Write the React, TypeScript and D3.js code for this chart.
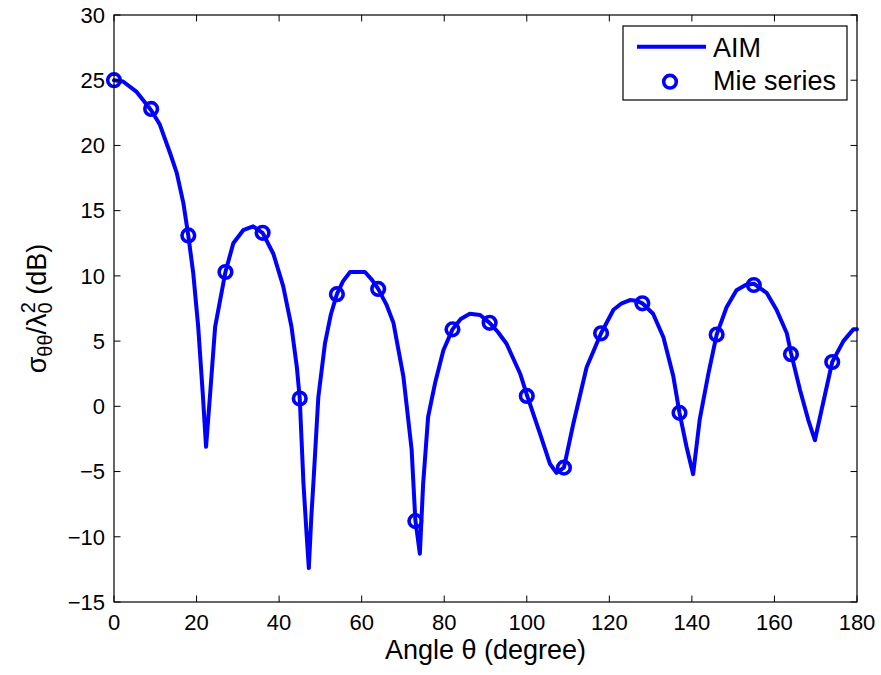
import React from "react";
import * as d3 from "d3";

const aimAngle = [0, 2.2, 5.5, 9, 11.1, 13.6, 15.2, 16.8, 18, 19.2, 20.4, 21.5, 22.3, 23.3, 24.5, 27, 28.9, 31.3, 33.7, 36, 38.6, 41.0, 43.0, 44.3, 45, 45.9, 46.6, 47.2, 47.8, 48.3, 49.5, 51.1, 52.5, 54, 55.5, 57.2, 60.8, 62.5, 64, 66, 67.7, 70.1, 72.1, 73, 74.1, 74.9, 76.1, 77.8, 79.8, 82, 84, 86.2, 88.7, 91, 93, 95.1, 98.4, 100, 103.2, 105.6, 107.2, 109, 111.3, 114.5, 118, 121, 123, 125, 126.5, 128, 130.6, 133.1, 135.5, 137, 138.7, 140.3, 141.9, 144, 146, 148.4, 150.8, 153, 155, 158.1, 160.5, 163, 164, 166.2, 168.2, 169.8, 171.4, 174, 176.7, 179.1, 180];
const aimValue = [25.0, 24.9, 24.1, 22.7, 21.6, 19.4, 17.9, 15.6, 13.1, 10.2, 6.1, 1.0, -3.1, 1.0, 6.1, 10.3, 12.5, 13.5, 13.8, 13.3, 11.7, 9.2, 6.1, 3.0, 0.6, -5.9, -9.5, -12.4, -8.5, -5.9, 0.7, 4.8, 7.0, 8.6, 9.6, 10.3, 10.3, 9.7, 9.0, 7.8, 6.4, 2.3, -3.3, -8.7, -11.3, -5.9, -0.8, 1.8, 4.3, 5.9, 6.7, 7.1, 7.0, 6.4, 5.7, 4.8, 2.5, 0.9, -2.1, -4.4, -5.1, -4.7, -1.3, 3.0, 5.6, 7.4, 7.9, 8.15, 8.1, 7.9, 7.1, 5.3, 2.3, -0.5, -3.1, -5.2, -1.0, 2.5, 5.5, 7.6, 8.9, 9.3, 9.4, 8.7, 7.4, 5.6, 4.1, 1.25, -1.05, -2.6, -0.3, 3.4, 5.0, 5.9, 5.9];

const mieAngle = [0, 9, 18, 27, 36, 45, 54, 64, 73, 82, 91, 100, 109, 118, 128, 137, 146, 155, 164, 174];
const mieValue = [25.0, 22.8, 13.1, 10.3, 13.3, 0.6, 8.6, 9.0, -8.8, 5.9, 6.4, 0.8, -4.7, 5.6, 7.9, -0.5, 5.5, 9.3, 4.0, 3.4];

const xTicks = [0, 20, 40, 60, 80, 100, 120, 140, 160, 180];
const yTicks = [-15, -10, -5, 0, 5, 10, 15, 20, 25, 30];

const seriesNames = ["AIM", "Mie series"];
const xLabel = "Angle θ (degree)";

const W = 881;
const H = 675;
const L = 114;
const R = 857;
const T = 15;
const B = 602;
const BLUE = "#0000ff";
const FONT = "'Liberation Sans', Arial, Helvetica, sans-serif";

export default function App() {
  const x = d3.scaleLinear().domain([0, 180]).range([L, R]);
  const y = d3.scaleLinear().domain([-15, 30]).range([B, T]);
  const aimData = aimAngle.map((a, i) => [a, aimValue[i]] as [number, number]);
  const line = d3
    .line<[number, number]>()
    .x((d) => x(d[0]))
    .y((d) => y(d[1]));
  const tl = 6.5;

  return (
    <svg
      width={W}
      height={H}
      style={{ position: "absolute", left: 0, top: 0, background: "#fff" }}
      fontFamily={FONT}
    >
      <rect x={0} y={0} width={W} height={H} fill="#fff" />
      <path
        d={line(aimData) || ""}
        fill="none"
        stroke={BLUE}
        strokeWidth={4}
        strokeLinejoin="round"
        strokeLinecap="round"
      />
      {mieAngle.map((a, i) => (
        <circle
          key={i}
          cx={x(a)}
          cy={y(mieValue[i])}
          r={6.3}
          fill="none"
          stroke={BLUE}
          strokeWidth={3.6}
        />
      ))}
      <rect x={L} y={T} width={R - L} height={B - T} fill="none" stroke="#000" strokeWidth={1.2} />
      {xTicks.map((t) => (
        <g key={"x" + t}>
          <line x1={x(t)} x2={x(t)} y1={B} y2={B - tl} stroke="#000" strokeWidth={1} />
          <line x1={x(t)} x2={x(t)} y1={T} y2={T + tl} stroke="#000" strokeWidth={1} />
          <text x={x(t)} y={630} fontSize={22} textAnchor="middle" fill="#000">
            {t}
          </text>
        </g>
      ))}
      {yTicks.map((t) => (
        <g key={"y" + t}>
          <line x1={L} x2={L + tl} y1={y(t)} y2={y(t)} stroke="#000" strokeWidth={1} />
          <line x1={R} x2={R - tl} y1={y(t)} y2={y(t)} stroke="#000" strokeWidth={1} />
          <text x={105} y={y(t) + 7.8} fontSize={22} textAnchor="end" fill="#000">
            {t < 0 ? "\u2212" + Math.abs(t) : t}
          </text>
        </g>
      ))}
      <text x={(L + R) / 2} y={659} fontSize={27} textAnchor="middle" fill="#000">
        {xLabel}
      </text>
      <text
        transform={`translate(46, ${(T + B) / 2}) rotate(-90)`}
        fontSize={27}
        textAnchor="middle"
        fill="#000"
      >
        <tspan>σ</tspan>
        <tspan fontSize={20} dy={6}>θθ</tspan>
        <tspan dy={-6}>/λ</tspan>
        <tspan fontSize={20} dy={6}>0</tspan>
        <tspan fontSize={20} dx={-11} dy={-17}>2</tspan>
        <tspan dy={11}> (dB)</tspan>
      </text>
      <rect x={623} y={26} width={224} height={74} fill="#fff" stroke="#000" strokeWidth={1.2} />
      <line x1={637} x2={706} y1={46.7} y2={46.7} stroke={BLUE} strokeWidth={4} />
      <text x={713} y={56.5} fontSize={27} fill="#000">
        {seriesNames[0]}
      </text>
      <circle cx={670} cy={81.7} r={6.3} fill="none" stroke={BLUE} strokeWidth={3.6} />
      <text x={713} y={90} fontSize={27} fill="#000">
        {seriesNames[1]}
      </text>
    </svg>
  );
}
